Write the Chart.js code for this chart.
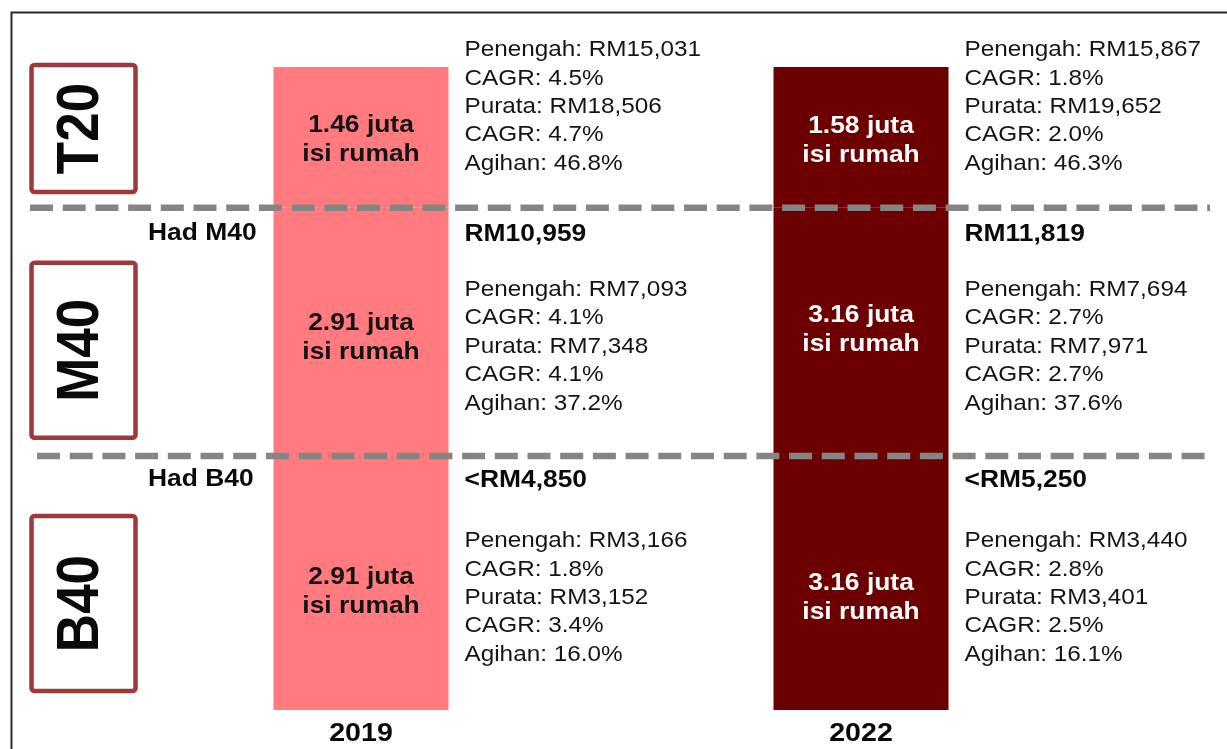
<!DOCTYPE html>
<html>
<head>
<meta charset="utf-8">
<script src="https://cdn.jsdelivr.net/npm/chart.js@4.4.1/dist/chart.umd.min.js"></script>
<style>
  html, body { margin: 0; padding: 0; background: #fff; }
  #wrap { width: 1227px; height: 749px; }
</style>
</head>
<body>
<div id="wrap"><canvas id="chart" width="1227" height="749"></canvas></div>
<script>
// Data (group order: B40, M40, T20; year order: 2019, 2022)
const years = ['2019', '2022'];
const groups = ['B40', 'M40', 'T20'];
const bandHeights = [39.5, 38.6, 21.9];          // bar segment heights
const households = [[2.91, 3.16], [2.91, 3.16], [1.46, 1.58]];   // juta isi rumah
const medianIncome = [[3166, 3440], [7093, 7694], [15031, 15867]];
const medianCagr = [[1.8, 2.8], [4.1, 2.7], [4.5, 1.8]];
const meanIncome = [[3152, 3401], [7348, 7971], [18506, 19652]];
const meanCagr = [[3.4, 2.5], [4.1, 2.7], [4.7, 2.0]];
const incomeShare = [[16.0, 16.1], [37.2, 37.6], [46.8, 46.3]];
const limitLabels = ['Had B40', 'Had M40'];
const limitValues = [['<RM4,850', '<RM5,250'], ['RM10,959', 'RM11,819']];

const barColors = ['#FF7B80', '#6C0000'];
const insideText = ['#141414', '#FFFFFF'];

function rm(n) { return 'RM' + n.toLocaleString('en-US'); }

// Teks dengan regangan mendatar sedikit
function drawText(ctx, text, x, y, font, color, align, sx) {
    ctx.save();
    ctx.font = font;
    ctx.fillStyle = color;
    ctx.textAlign = align || 'left';
    ctx.textBaseline = 'middle';
    ctx.translate(x, y);
    ctx.scale(sx || 1.08, 1);
    ctx.fillText(text, 0, 0);
    ctx.restore();
}

const FONT = '"Liberation Sans", Arial, sans-serif';

const infographic = {
    id: 'infographic',
    afterDatasetsDraw(chart) {
        const ctx = chart.ctx;
        const yScale = chart.scales.y;
        const meta0 = chart.getDatasetMeta(0);

        // Sempadan setiap kumpulan (piksel)
        let cum = 0;
        const bandTop = [], bandBottom = [];
        bandHeights.forEach((h, g) => {
            bandBottom[g] = yScale.getPixelForValue(cum);
            cum += h;
            bandTop[g] = yScale.getPixelForValue(cum);
        });

        // Garis putus-putus
        ctx.save();
        ctx.strokeStyle = '#858585';
        ctx.lineWidth = 6.5;
        ctx.setLineDash([23, 9.7]);
        [[bandTop[0], 37], [bandTop[1], 30]].forEach(([y, x0]) => {
            ctx.beginPath();
            ctx.moveTo(x0, y);
            ctx.lineTo(1210, y);
            ctx.stroke();
        });
        ctx.restore();

        // Kotak label kumpulan
        const boxRange = [[60, 235], [55, 230], [-2, 125]];
        groups.forEach((name, g) => {
            const top = bandTop[g] + boxRange[g][0];
            const bottom = bandTop[g] + boxRange[g][1];
            ctx.save();
            ctx.strokeStyle = '#9B3A3A';
            ctx.lineWidth = 4.5;
            ctx.beginPath();
            ctx.roundRect(31.5, top, 104, bottom - top, 3);
            ctx.stroke();
            ctx.translate(98, (top + bottom) / 2);
            ctx.rotate(-Math.PI / 2);
            ctx.scale(1, 1.13);
            ctx.font = 'bold 53px ' + FONT;
            ctx.fillStyle = '#0a0a0a';
            ctx.textAlign = 'center';
            ctx.textBaseline = 'alphabetic';
            ctx.fillText(name, 0, 0);
            ctx.restore();
        });

        const statsOffset = [85, 82, -17];
        const insideOffset = [[136, 142], [130, 122], [73, 74]];
        const limitOffset = [24, 27];

        years.forEach((yr, i) => {
            const bar = meta0.data[i];
            const cx = bar.x;
            const right = bar.x + bar.width / 2;

            groups.forEach((name, g) => {
                // Bilangan isi rumah dalam bar
                const c = bandTop[g] + insideOffset[g][i];
                drawText(ctx, households[g][i].toFixed(2) + ' juta', cx, c - 14.5,
                    'bold 24px ' + FONT, insideText[i], 'center', 1.1);
                drawText(ctx, 'isi rumah', cx, c + 14.5,
                    'bold 24px ' + FONT, insideText[i], 'center', 1.1);

                // Statistik pendapatan
                const lines = [
                    'Penengah: ' + rm(medianIncome[g][i]),
                    'CAGR: ' + medianCagr[g][i].toFixed(1) + '%',
                    'Purata: ' + rm(meanIncome[g][i]),
                    'CAGR: ' + meanCagr[g][i].toFixed(1) + '%',
                    'Agihan: ' + incomeShare[g][i].toFixed(1) + '%'
                ];
                const y0 = bandTop[g] + statsOffset[g];
                lines.forEach((t, k) => {
                    drawText(ctx, t, right + 16, y0 + k * 28.4, '22.5px ' + FONT, '#141414', 'left', 1.08);
                });
            });

            // Had pendapatan
            limitValues.forEach((vals, g) => {
                drawText(ctx, vals[i], right + 16, bandTop[g] + limitOffset[g],
                    'bold 24px ' + FONT, '#0a0a0a', 'left', 1.1);
            });

            // Tahun
            drawText(ctx, yr, cx, 734, 'bold 26px ' + FONT, '#0a0a0a', 'center', 1.1);
        });

        limitLabels.forEach((t, g) => {
            drawText(ctx, t, 148, bandTop[g] + limitOffset[g] - 1, 'bold 24px ' + FONT, '#0a0a0a', 'left', 1.1);
        });

        // Bingkai
        ctx.save();
        ctx.strokeStyle = '#2a2a2a';
        ctx.lineWidth = 2;
        ctx.beginPath();
        ctx.moveTo(11.5, 749);
        ctx.lineTo(11.5, 12.5);
        ctx.lineTo(1227, 12.5);
        ctx.stroke();
        ctx.restore();
    }
};

new Chart(document.getElementById('chart'), {
    type: 'bar',
    data: {
        labels: years,
        datasets: groups.map((name, g) => ({
            label: name,
            data: years.map(() => bandHeights[g]),
            backgroundColor: barColors,
            borderWidth: 0,
            barPercentage: 1,
            categoryPercentage: 0.35
        }))
    },
    options: {
        responsive: false,
        animation: false,
        layout: { padding: { left: 111, right: 116, top: 67, bottom: 39 } },
        plugins: { legend: { display: false }, tooltip: { enabled: false } },
        scales: {
            x: { display: false, stacked: true },
            y: { display: false, stacked: true, min: 0, max: 100 }
        }
    },
    plugins: [infographic]
});
</script>
</body>
</html>
